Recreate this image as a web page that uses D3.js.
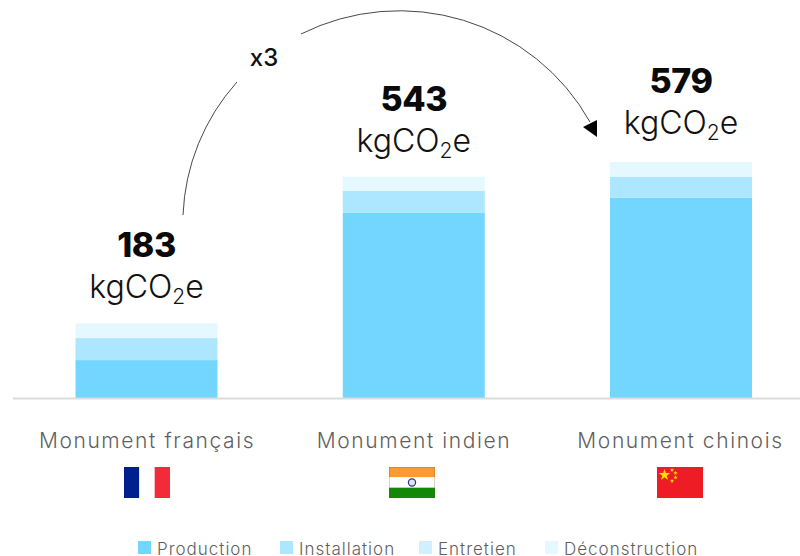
<!DOCTYPE html>
<html><head><meta charset="utf-8">
<script src="https://cdn.jsdelivr.net/npm/d3@7"></script>
<style>html,body{margin:0;padding:0;background:#fff}svg{display:block}text{font-family:Inter,sans-serif}</style>
</head><body><svg id="c" width="800" height="556"></svg>
<script>
const categories=["Monument français","Monument indien","Monument chinois"];
const totals=[183,543,579];
const seriesNames=["Production","Installation","Entretien","Déconstruction"];
const production=[93,454,491];
const installation=[54,54,52];
const entretien=[0,0,0];
const deconstruction=[36,35,36];
const seriesColors=["#73d6ff","#ace6ff","#d0f0ff","#e5f7ff"];
const unit="kgCO";
const multiplier="x3";

const svg=d3.select("#c");
const x=d3.scaleBand().domain(categories).range([75.5,752]).paddingInner(0.4687).paddingOuter(0);
const y=d3.scaleLinear().domain([0,579]).range([398,162]);
const rows=categories.map((c,i)=>({c,Production:production[i],Installation:installation[i],"Entretien":entretien[i],"Déconstruction":deconstruction[i]}));
const stacked=d3.stack().keys(seriesNames)(rows);
const color=d3.scaleOrdinal(seriesNames,seriesColors);

svg.append("g").selectAll("g").data(stacked).join("g").attr("fill",d=>color(d.key))
 .selectAll("rect").data(d=>d).join("rect")
 .attr("x",d=>x(d.data.c)).attr("width",x.bandwidth())
 .attr("y",d=>y(d[1])).attr("height",d=>y(d[0])-y(d[1]));

svg.append("line").attr("x1",13).attr("x2",800).attr("y1",398.5).attr("y2",398.5).attr("stroke","#dcdcdc").attr("stroke-width",2);

const cx=i=>x(categories[i])+x.bandwidth()/2;
const labelY=[257,111,93];
categories.forEach((c,i)=>{
  svg.append("text").attr("x",cx(i)).attr("y",labelY[i]).attr("text-anchor","middle")
    .attr("font-size",34).attr("font-weight",800).attr("letter-spacing",-0.4).attr("fill","#0a0a0a").text(totals[i]);
  const t=svg.append("text").attr("x",cx(i)).attr("y",labelY[i]+41).attr("text-anchor","middle")
    .attr("font-size",32).attr("font-weight",300).attr("fill","#111");
  t.append("tspan").text(unit);
  t.append("tspan").attr("font-size",21).attr("dy",6).text("2");
  t.append("tspan").attr("dy",-6).text("e");
});

const catX=[147,414,680.5];
svg.append("g").selectAll("text").data(categories).join("text")
 .attr("x",(d,i)=>catX[i]).attr("y",448).attr("text-anchor","middle")
 .attr("font-size",21).attr("font-weight",300).attr("letter-spacing",1.6).attr("fill","#5f5f5f").text(d=>d);

// Arc annotation
svg.append("path").attr("fill","none").attr("stroke","#333").attr("stroke-width",0.9)
 .attr("d","M183 215A212 212 0 0 1 237 82");
svg.append("path").attr("fill","none").attr("stroke","#333").attr("stroke-width",0.9)
 .attr("d","M301 34A218 216 0 0 1 590 122");
svg.append("path").attr("fill","#000").attr("d","M597 120L583 127L597 137Z");
svg.append("text").attr("x",264).attr("y",66).attr("text-anchor","middle").attr("font-size",24).attr("font-weight",500).attr("fill","#111").text(multiplier);

// Flags
const fy=467,fh=31,fw=46;
const fr=svg.append("g").attr("transform","translate(124,"+fy+")");
[["#00208f",0],["#fff",1],["#f42a3b",2]].forEach(([col,k])=>fr.append("rect").attr("x",k*fw/3).attr("width",fw/3).attr("height",fh).attr("fill",col));
const ind=svg.append("g").attr("transform","translate(389,"+fy+")");
[["#ff9933",0],["#fff",1],["#138808",2]].forEach(([col,k])=>ind.append("rect").attr("y",k*fh/3).attr("width",fw).attr("height",fh/3).attr("fill",col));
ind.append("circle").attr("cx",fw/2).attr("cy",fh/2).attr("r",3.6).attr("fill","#dfe2f0").attr("stroke","#2a3a80").attr("stroke-width",1.2);
ind.append("rect").attr("x",.25).attr("y",.25).attr("width",fw-.5).attr("height",fh-.5).attr("fill","none").attr("stroke","#6b5a1c").attr("stroke-opacity",.5).attr("stroke-width",.5);
const cn=svg.append("g").attr("transform","translate(657,"+fy+")");
cn.append("rect").attr("width",fw).attr("height",fh).attr("fill","#ee1c25");
const star=d3.symbol().type(d3.symbolStar);
cn.append("path").attr("d",star.size(42)()).attr("transform","translate(7.5,8)").attr("fill","#ffde00");
[[15,3],[18.5,6],[18.5,10.5],[15,14]].forEach(([a,b])=>cn.append("path").attr("d",star.size(6)()).attr("transform",`translate(${a},${b})`).attr("fill","#ffde00"));

// Legend
const legX=[138,280,419,545];
const lg=svg.append("g").selectAll("g").data(seriesNames).join("g").attr("transform",(d,i)=>`translate(${legX[i]},541)`);
lg.append("rect").attr("width",13).attr("height",13).attr("fill",d=>color(d));
lg.append("text").attr("x",19).attr("y",13.5).attr("font-size",17).attr("font-weight",300).attr("letter-spacing",1).attr("fill","#5f5f5f").text(d=>d);
</script></body></html>
